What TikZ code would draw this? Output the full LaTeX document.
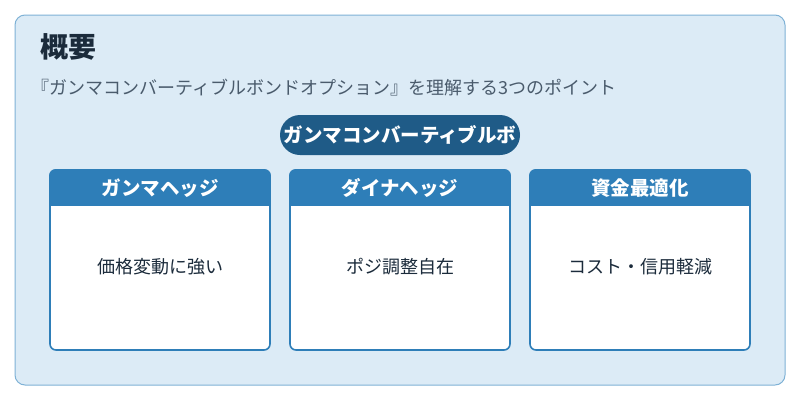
\documentclass[tikz,border=0pt]{standalone}
\usepackage{fontspec}
\setmainfont{Noto Sans CJK JP}
\definecolor{bgc}{HTML}{DCEBF6}
\definecolor{bdc}{HTML}{7FB2D6}
\definecolor{hdc}{HTML}{2E7EB8}
\definecolor{pillc}{HTML}{1F5B87}
\definecolor{ttc}{HTML}{1B2B3B}
\definecolor{stc}{HTML}{4A5B6C}
\tikzset{
  card/.style={draw=hdc,line width=1.6pt,fill=white,rounded corners=6pt},
  hdtext/.style={text=white,font=\bfseries\fontsize{19.5}{21}\selectfont},
  bodytext/.style={text=ttc,font=\fontsize{18}{21}\selectfont},
}
\begin{document}
\begin{tikzpicture}[x=1pt,y=-1pt]
\useasboundingbox (0,0) rectangle (800,400);
\fill[white] (0,0) rectangle (800,400);
\draw[draw=bdc,fill=bgc,line width=1pt,rounded corners=10pt] (15,15) rectangle (785,385);
\node[anchor=west,text=ttc,font=\bfseries\fontsize{28}{30}\selectfont,inner sep=0pt] (title) at (40,47) {概要};
\node[anchor=west,text=stc,font=\fontsize{18}{21}\selectfont,inner sep=0pt] (sub) at (31,88) {『ガンマコンバーティブルボンドオプション』を理解する3つのポイント};
\node[fill=pillc,rounded corners=20pt,minimum width=240pt,minimum height=40pt,inner sep=0pt,text=white,font=\bfseries\fontsize{19.5}{21}\selectfont] (pill) at (400,135) {ガンマコンバーティブルボ};
\foreach \x/\h/\b/\n in {50/ガンマヘッジ/価格変動に強い/a,290/ダイナヘッジ/ポジ調整自在/b,530/資金最適化/コスト・信用軽減/c}{
  \begin{scope}
  \draw[card] (\x,170) rectangle ++(220,180);
  \fill[hdc,rounded corners=6pt] (\x-0.8,169.2) rectangle ++(221.6,20);
  \fill[hdc] (\x-0.8,180) rectangle ++(221.6,26);
  \node[hdtext] (h\n) at (\x+110,188) {\h};
  \node[bodytext] (b\n) at (\x+110,267) {\b};
  \end{scope}
}
\end{tikzpicture}
\end{document}
